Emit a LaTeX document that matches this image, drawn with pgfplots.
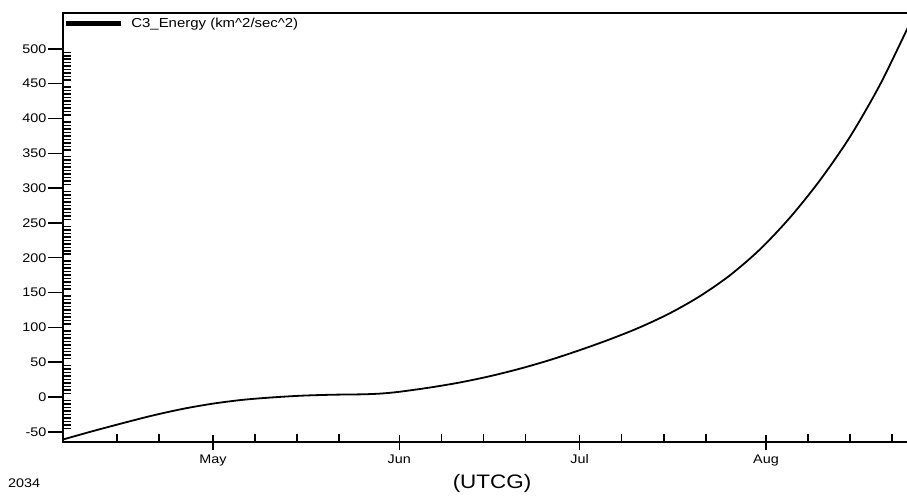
\documentclass[border=0pt]{standalone}
\usepackage{pgfplots}
\pgfplotsset{compat=1.18}
\usepackage{fontspec}
\setmainfont[FakeStretch=1.15]{Liberation Sans}
\begin{document}
\begin{tikzpicture}[x=1pt,y=1pt]
\useasboundingbox (0,0) rectangle (907,498);
\begin{axis}[
  at={(63pt,56pt)}, anchor=south west,
  width=847pt, height=429pt, scale only axis,
  xmin=5.05, xmax=145.96, ymin=-64.6, ymax=551.4,
  xtick={30,61,91,122}, xticklabels={May,Jun,Jul,Aug},
  minor xtick={14,21,37,44,51,68,75,82,98,105,112,129,136,143},
  ytick={-50,0,50,100,150,200,250,300,350,400,450,500},
  minor y tick num=9,
  tick pos=left,
  tick align=inside, major tick length=15pt, minor tick length=8pt,
  major x tick style={yshift=-7.5pt, line width=1.5pt, black},
  minor x tick style={line width=1.5pt, black},
  major y tick style={xshift=-15pt, line width=1.5pt, black},
  minor y tick style={line width=1.5pt, black},
  axis line style={line width=2pt},
  /pgf/number format/assume math mode=true,
  ticklabel style={font=\fontsize{12.5}{14}\selectfont},
  yticklabel style={xshift=-13pt},
  xticklabel style={yshift=-9pt},
  legend style={at={(axis description cs:0,1)}, anchor=north west, draw=none, fill=none,
    font=\fontsize{13}{15}\selectfont, inner sep=1pt, yshift=-2pt},
  legend cell align=left,
  legend image code/.code={\draw[line width=4.5pt, black] (0pt,0pt) -- (55pt,0pt); \path (62pt,0pt);},
  clip=true,
]
\addplot[black, line width=1.8pt, smooth] coordinates {
(5.05,-61) (10,-49) (15,-37.5) (20,-26.5) (25,-17) (30,-9.5) (35,-4) (40,-0.5)
(45,2) (50,3.3) (55,3.9) (58,5) (61,7.5) (66,13.5) (71,20.75) (76,29.75)
(81,40.5) (86,53) (91,67.25) (96,82.75) (101,100) (106,120.25) (111,144.75)
(116,174.75) (121,212) (126,257.75) (131,311.5) (136,374) (141,449) (146,537.75)
};
\addlegendentry{C3\_Energy (km\textasciicircum 2/sec\textasciicircum 2)}
\end{axis}
\node[anchor=west, font=\fontsize{12.5}{14}\selectfont, inner sep=0pt] at (8,15) {2034};
\node[font=\fontsize{19.5}{22}\selectfont, inner sep=0pt] at (492,15) {(UTCG)};
\end{tikzpicture}
\end{document}
